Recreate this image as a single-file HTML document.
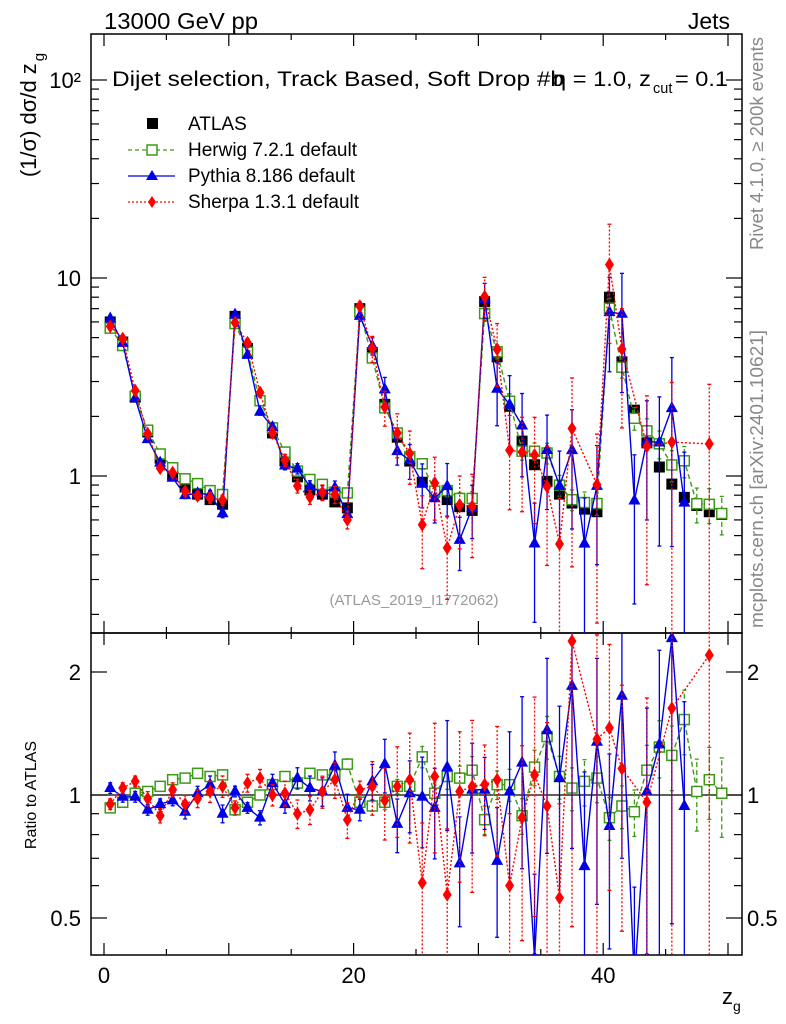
<!DOCTYPE html>
<html><head><meta charset="utf-8">
<style>
html,body{margin:0;padding:0;background:#fff;overflow:hidden;width:786px;height:1024px;}
svg{display:block;font-family:"Liberation Sans",Arial,sans-serif;overflow:hidden;}
</style></head>
<body>
<svg id="chart" width="786" height="1024" viewBox="0 0 786 1024" xmlns="http://www.w3.org/2000/svg">
<defs>
<clipPath id="clipMain"><rect x="91" y="34" width="651" height="599"/></clipPath>
<clipPath id="clipRatio"><rect x="91" y="633" width="651" height="322"/></clipPath>
</defs>
<text x="104" y="29" font-size="23" textLength="154" lengthAdjust="spacingAndGlyphs">13000 GeV pp</text>
<text x="730" y="29" font-size="23" text-anchor="end">Jets</text>
<text x="112" y="86" font-size="21.6" textLength="452" lengthAdjust="spacingAndGlyphs">Dijet selection, Track Based, Soft Drop #b</text>
<text x="553" y="86" font-size="21.6" textLength="98" lengthAdjust="spacingAndGlyphs">η = 1.0, z</text>
<text x="653" y="93" font-size="14.5">cut</text>
<text x="675" y="86" font-size="21.6" textLength="53" lengthAdjust="spacingAndGlyphs">= 0.1</text>
<text transform="translate(36,115) rotate(-90)" font-size="22" text-anchor="middle">(1/σ) dσ/d z<tspan font-size="15" dy="8" dx="2">g</tspan></text>
<text transform="translate(36,795) rotate(-90)" font-size="16" text-anchor="middle">Ratio to ATLAS</text>
<text transform="translate(763,250) rotate(-90)" font-size="18" fill="#888" textLength="213" lengthAdjust="spacingAndGlyphs">Rivet 4.1.0, ≥ 200k events</text>
<text transform="translate(763,628) rotate(-90)" font-size="18" fill="#888" textLength="298" lengthAdjust="spacingAndGlyphs">mcplots.cern.ch [arXiv:2401.10621]</text>
<text x="414" y="605" font-size="15" fill="#999" text-anchor="middle">(ATLAS_2019_I1772062)</text>
<text x="722" y="1004" font-size="22">z<tspan font-size="14" dy="7">g</tspan></text>
<g id="axes"></g>
<g id="mainMarks" clip-path="url(#clipMain)"></g>
<g id="ratioMarks" clip-path="url(#clipRatio)"></g>
<g id="legend">
 <rect x="147" y="118" width="11" height="11" fill="#000"/>
 <text x="188" y="130" font-size="19">ATLAS</text>
 <line x1="128" y1="150" x2="175" y2="150" stroke="#3c9a17" stroke-dasharray="4,3" stroke-width="1.2"/>
 <rect x="147" y="145" width="10" height="10" fill="#fff" stroke="#3c9a17" stroke-width="1.5"/>
 <text x="188" y="156" font-size="19" textLength="169" lengthAdjust="spacingAndGlyphs">Herwig 7.2.1 default</text>
 <line x1="128" y1="176" x2="175" y2="176" stroke="#0000e6" stroke-width="1.3"/>
 <polygon points="152,170 158,180 146,180" fill="#0000e6"/>
 <text x="188" y="182" font-size="19" textLength="167" lengthAdjust="spacingAndGlyphs">Pythia 8.186 default</text>
 <line x1="128" y1="202" x2="175" y2="202" stroke="#f00" stroke-dasharray="2,2" stroke-width="1.3"/>
 <polygon points="152,196 156,202 152,208 148,202" fill="#f00"/>
 <text x="188" y="208" font-size="19" textLength="171" lengthAdjust="spacingAndGlyphs">Sherpa 1.3.1 default</text>
</g>
</svg>
<script>
// ---- data ----
const binCenters = [0.5,1.5,2.5,3.5,4.5,5.5,6.5,7.5,8.5,9.5,10.5,11.5,12.5,13.5,14.5,15.5,16.5,17.5,18.5,19.5,20.5,21.5,22.5,23.5,24.5,25.5,26.5,27.5,28.5,29.5,30.5,31.5,32.5,33.5,34.5,35.5,36.5,37.5,38.5,39.5,40.5,41.5,42.5,43.5,44.5,45.5,46.5,47.5,48.5,49.5];
const atlasValues = [6.0,4.75,2.5,1.67,1.23,1.01,0.88,0.81,0.76,0.72, 6.4,4.4,2.4,1.65,1.19,0.99,0.85,0.81,0.74,0.69, 7.0,4.2,2.3,1.57,1.19,0.93,0.83,0.76,0.70,0.67, 7.6,4.0,2.25,1.5,1.14,0.94,0.81,0.73,0.68,0.66, 8.0,3.77,2.15,1.47,1.11,0.91,0.78,0.71,0.66,0.64];
const herwigRatio = [0.93,0.96,1.01,1.02,1.05,1.09,1.10,1.13,1.11,1.12, 0.92,0.96,1.0,1.06,1.11,1.07,1.13,1.12,1.12,1.19, 0.96,0.94,0.96,1.05,1.05,1.24,1.01,1.11,1.10,1.15, 0.87,1.06,1.06,0.89,1.17,1.39,1.11,1.04,1.08,1.10, 0.88,0.94,0.91,1.15,1.31,1.25,1.53,1.02,1.09,1.01];
const herwigErr = [0.02,0.02,0.02,0.02,0.02,0.02,0.02,0.02,0.02,0.02, 0.02,0.02,0.02,0.02,0.02,0.02,0.02,0.02,0.03,0.03, 0.03,0.03,0.04,0.04,0.05,0.06,0.06,0.07,0.07,0.08, 0.08,0.08,0.09,0.10,0.10,0.12,0.12,0.12,0.13,0.13, 0.12,0.12,0.13,0.15,0.16,0.18,0.18,0.20,0.20,0.22];
const pythiaRatio = [1.04,0.99,0.99,0.92,0.95,0.97,0.91,1.01,1.06,0.90, 1.02,0.93,0.88,1.07,0.95,1.10,1.04,1.02,1.18,0.93, 0.92,1.08,1.19,0.85,1.01,0.99,0.93,1.17,0.68,1.03, 1.03,0.69,1.02,1.20,0.40,1.44,1.10,1.85,0.67,1.35, 0.84,1.75,0.35,1.02,1.33,2.42,0.94,null,null,null];
const pythiaErr = [0.03,0.03,0.03,0.03,0.03,0.03,0.04,0.04,0.05,0.05, 0.03,0.03,0.04,0.05,0.05,0.06,0.07,0.08,0.08,0.08, 0.06,0.10,0.15,0.15,0.20,0.25,0.25,0.30,0.30,0.30, 0.20,0.35,0.40,0.45,0.60,0.50,0.50,0.60,0.70,0.60, 0.50,0.60,0.70,0.60,0.70,0.80,0.80,null,null,null];
const sherpaRatio = [0.95,1.04,1.08,0.98,0.89,1.03,0.95,0.98,1.02,1.05, 0.93,1.07,1.10,1.0,1.01,0.90,0.92,1.02,1.09,0.87, 1.03,1.05,0.97,1.05,1.09,0.61,1.11,0.57,1.02,1.05, 1.06,1.09,0.60,0.88,1.12,0.94,0.56,2.38,null,1.37, 1.46,1.16,null,0.96,null,1.63,null,null,2.2,null];
const sherpaErr = [0.03,0.03,0.03,0.04,0.04,0.04,0.05,0.05,0.06,0.06, 0.04,0.05,0.05,0.06,0.07,0.08,0.08,0.09,0.10,0.10, 0.05,0.15,0.20,0.25,0.30,0.40,0.35,0.45,0.40,0.45, 0.25,0.35,0.50,0.50,0.55,0.60,0.70,0.80,null,0.80, 0.60,0.60,null,0.80,null,1.0,null,null,1.0,null];
const xTicks = [0,20,40];
const mainTickLabels = ["1","10","10²"];
const ratioTickValues = [0.5,1,2];

// ---- axes ----
const X0=104, XS=12.48;
const L=91, R=742, T=34, MB=633, RB=955;
function xs(v){return X0+XS*v;}
function ym(v){return 476-198*Math.log10(v);}
function yr(r){return 795-408.6*Math.log10(r);}
const NS="http://www.w3.org/2000/svg";
function mk(tag,attrs,parent){const e=document.createElementNS(NS,tag);for(const k in attrs)e.setAttribute(k,attrs[k]);parent.appendChild(e);return e;}
const ax=document.getElementById('axes');
let f=mk('rect',{x:L,y:T,width:R-L,height:MB-T,fill:'none',stroke:'#000','stroke-width':1.5},ax);


f=mk('rect',{x:L,y:MB,width:R-L,height:RB-MB,fill:'none',stroke:'#000','stroke-width':1.5},ax);


for(let v=0;v<=50;v+=5){
  const x=xs(v), len=(v%10===0)?12:6;
  for(const [yb,dir] of [[T,1],[MB,-1],[MB,1],[RB,-1]]){
    mk('line',{x1:x,y1:yb,x2:x,y2:yb+dir*len,stroke:'#000','stroke-width':1.2},ax);
  }
}
xTicks.forEach(v=>{
  const t=mk('text',{x:xs(v),y:983,'font-size':22,'text-anchor':'middle'},ax);
  t.textContent=String(v);
  
  
});
for(let d=-1;d<=2;d++){
  for(let m=1;m<=9;m++){
    const v=m*Math.pow(10,d), y=ym(v);
    if(y<T||y>MB) continue;
    const len=m===1?16:8;
    mk('line',{x1:L,y1:y,x2:L+len,y2:y,stroke:'#000','stroke-width':1.2},ax);
    mk('line',{x1:R,y1:y,x2:R-len,y2:y,stroke:'#000','stroke-width':1.2},ax);
  }
}
[1,10,100].forEach((v,i)=>{
  const t=mk('text',{x:81,y:ym(v)+8,'font-size':22,'text-anchor':'end'},ax);
  t.textContent=mainTickLabels[i];
  
  
});
for(let d=-1;d<=0;d++){
  for(let m=1;m<=9;m++){
    const v=m*Math.pow(10,d), y=yr(v);
    if(y<MB||y>RB) continue;
    const major=(v===0.5||v===1||v===2);
    const len=major?16:8;
    mk('line',{x1:L,y1:y,x2:L+len,y2:y,stroke:'#000','stroke-width':1.2},ax);
    mk('line',{x1:R,y1:y,x2:R-len,y2:y,stroke:'#000','stroke-width':1.2},ax);
  }
}
ratioTickValues.forEach(v=>{
  let t=mk('text',{x:81,y:yr(v)+8,'font-size':22,'text-anchor':'end'},ax);
  t.textContent=String(v);
  
  
  t=mk('text',{x:747,y:yr(v)+8,'font-size':22},ax);
  t.textContent=String(v);
  
  
});
const rl=mk('line',{x1:L,y1:yr(1),x2:R,y2:yr(1),stroke:'#000','stroke-width':1.3},document.getElementById('ratioMarks'));



// ---- series ----
const mainG=document.getElementById('mainMarks'), ratioG=document.getElementById('ratioMarks');
function marker(g,type,x,y,color){
  if(type==='sq') return mk('rect',{x:x-5,y:y-5,width:10,height:10,fill:'#fff',stroke:color,'stroke-width':1.5},g);
  if(type==='tri') return mk('polygon',{points:`${x},${y-7} ${x+6},${y+4} ${x-6},${y+4}`,fill:color},g);
  return mk('polygon',{points:`${x},${y-7} ${x+4.5},${y} ${x},${y+7} ${x-4.5},${y}`,fill:color},g);
}
function drawSeries(name,ratios,errs,color,dash,type){
  [[mainG,true],[ratioG,false]].forEach(([g,isMain])=>{
    const grp=mk('g',{},g);
    
    
    const pts=[];
    ratios.forEach((r,i)=>{
      if(r===null) return;
      const val=isMain?atlasValues[i]*r:r;
      pts.push([xs(binCenters[i]),isMain?ym(val):yr(val)]);
    });
    const pl=mk('polyline',{points:pts.map(p=>p.join(',')).join(' '),fill:'none',stroke:color,'stroke-width':1.4,'stroke-dasharray':dash},grp);
    
    
    ratios.forEach((r,i)=>{
      if(r===null) return;
      const e=errs[i];
      const x=xs(binCenters[i]);
      const lo=Math.max(r-e*r,0.05), hi=r+e*r;
      const f1=isMain?atlasValues[i]:1;
      const fy=isMain?ym:yr;
      const y1=fy(lo*f1), y2=fy(hi*f1);
      const eb=mk('line',{x1:x,y1:y1,x2:x,y2:y2,stroke:color,'stroke-width':1.3,'stroke-dasharray':dash},grp);
      
      
      mk('line',{x1:x-2,y1:y1,x2:x+2,y2:y1,stroke:color,'stroke-width':1.3},grp);
      mk('line',{x1:x-2,y1:y2,x2:x+2,y2:y2,stroke:color,'stroke-width':1.3},grp);
      const m=marker(grp,type,x,fy(r*f1),color);
      
      
    });
  });
}
atlasValues.forEach((v,i)=>{
  const x=xs(binCenters[i]);
  const p=mk('rect',{x:x-5.5,y:ym(v)-5.5,width:11,height:11,fill:'#000'},mainG);
  
  
});
drawSeries('herwig',herwigRatio,herwigErr,'#3c9a17','5,3','sq');
drawSeries('pythia',pythiaRatio,pythiaErr,'#0000e6','','tri');
drawSeries('sherpa',sherpaRatio,sherpaErr,'#ff0000','2,2','dia');
</script>
</body></html>
